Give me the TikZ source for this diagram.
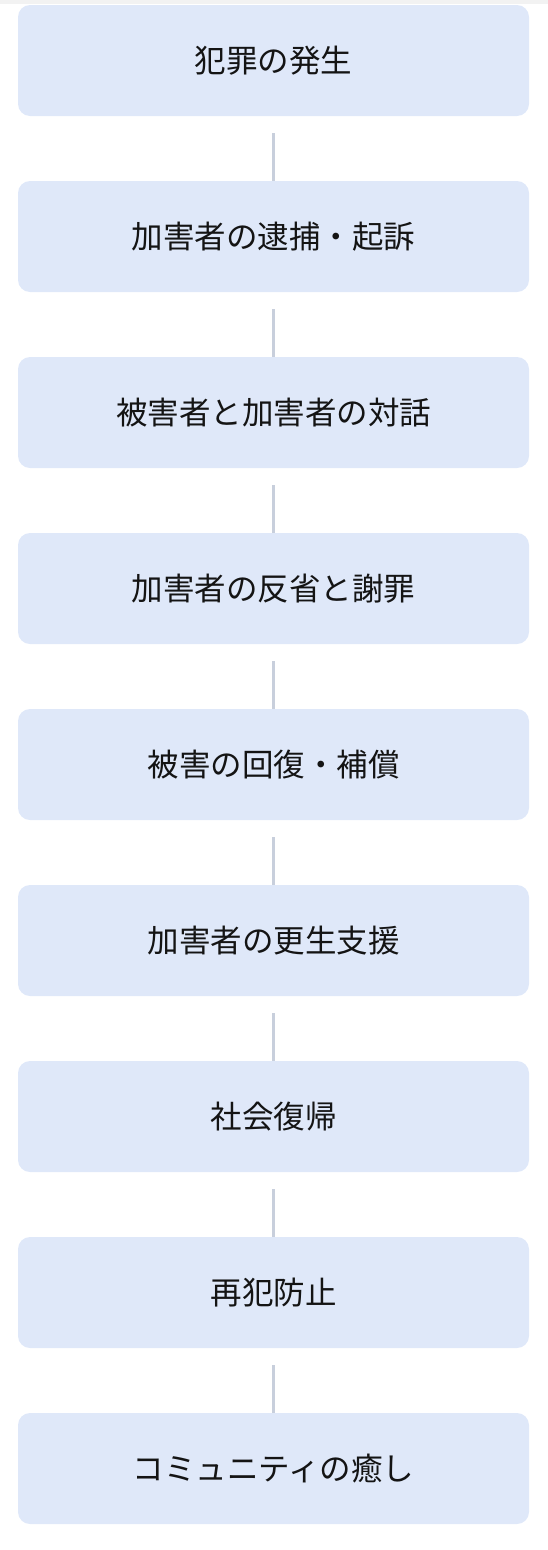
\documentclass[tikz,border=0pt]{standalone}
\usepackage{fontspec}
\newfontfamily\jpfont{Noto Sans CJK JP}
\usepackage{xcolor}
\usetikzlibrary{positioning}
\definecolor{cStage}{RGB}{223,232,249}
\definecolor{cLink} {RGB}{200,207,220}
\definecolor{cText} {RGB}{20,20,20}
\definecolor{cTop}  {RGB}{242,242,242}
\tikzset{
  stage/.style={fill=cStage,rounded corners=12pt,minimum width=511pt,
                minimum height=111pt,inner sep=0pt,text=cText,
                font=\jpfont\fontsize{31.5}{36}\selectfont}, % one stage box
  link/.style={-,cLink,line width=3pt},
}
\begin{document}
\begin{tikzpicture}[x=1pt,y=-1pt]
  \useasboundingbox (0,0) rectangle (548,1550);
  % thin band at the top edge
  \fill[cTop] (0,0) rectangle (548,4);

  \node[stage] (s1) at (273.5,60.5)   {犯罪の発生};
  \node[stage] (s2) at (273.5,236.5)  {加害者の逮捕・起訴};
  \node[stage] (s3) at (273.5,412.5)  {被害者と加害者の対話};
  \node[stage] (s4) at (273.5,588.5)  {加害者の反省と謝罪};
  \node[stage] (s5) at (273.5,764.5)  {被害の回復・補償};
  \node[stage] (s6) at (273.5,940.5)  {加害者の更生支援};
  \node[stage] (s7) at (273.5,1116.5) {社会復帰};
  \node[stage] (s8) at (273.5,1292.5) {再犯防止};
  \node[stage] (s9) at (273.5,1468.5) {コミュニティの癒し};

  % connectors between consecutive stages
  \foreach \a/\b in {s1/s2,s2/s3,s3/s4,s4/s5,s5/s6,s6/s7,s7/s8,s8/s9}
    \draw[link] ([yshift=-17pt]\a.south) -- (\b.north);
\end{tikzpicture}
\end{document}
